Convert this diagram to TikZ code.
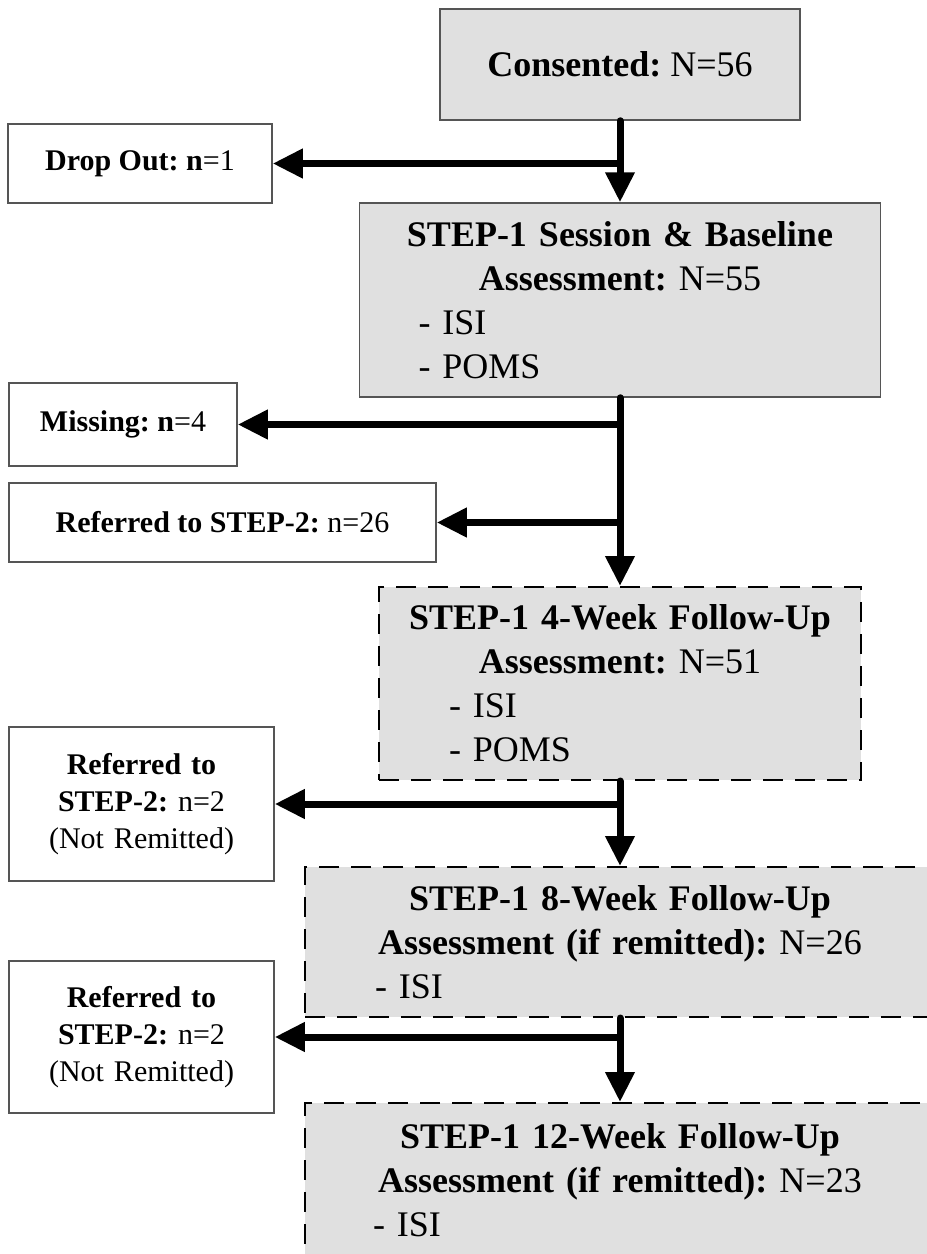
\documentclass[tikz,border=0pt]{standalone}
\usepackage{fontspec}
\setmainfont{Liberation Serif}
\usetikzlibrary{arrows.meta}
\definecolor{boxgray}{RGB}{224,224,224}
\definecolor{edgegray}{RGB}{85,85,85}
\frenchspacing
\begin{document}
\begin{tikzpicture}[x=1pt,y=-1pt,
  solidbox/.style={rectangle,draw=edgegray,line width=1.5pt,fill=boxgray,inner sep=0pt},
  whitebox/.style={rectangle,draw=edgegray,line width=1.5pt,fill=white,inner sep=0pt},
  dashbox/.style={rectangle,draw=black,line width=2pt,dash pattern=on 20pt off 12pt,fill=boxgray,inner sep=0pt},
  bigtext/.style={font=\fontsize{36}{44}\selectfont\frenchspacing},
  smalltext/.style={font=\fontsize{30}{37}\selectfont\frenchspacing},
  flow/.style={line width=7pt,line cap=round,-{Triangle[width=28pt,length=30pt]}}
]
\useasboundingbox (0,0) rectangle (927,1254);

% main column
\node[solidbox,bigtext,minimum width=360pt,minimum height=111pt] (cons) at (620,64.5)
  {\textbf{Consented:} N=56};
\node[solidbox,bigtext,minimum width=521pt,minimum height=194pt,text width=521pt] (sess) at (620,300)
  {\centering\textbf{STEP-1 Session \& Baseline}\\\textbf{Assessment:} N=55\par
   \raggedright\hspace*{59pt}- ISI\\\hspace*{59pt}- POMS\par};
\node[dashbox,bigtext,minimum width=482pt,minimum height=193pt,text width=482pt] (w4) at (620,683.5)
  {\centering\textbf{STEP-1 4-Week Follow-Up}\\\textbf{Assessment:} N=51\par
   \raggedright\hspace*{70pt}- ISI\\\hspace*{70pt}- POMS\par};
\node[dashbox,bigtext,minimum width=630pt,minimum height=150pt,text width=630pt] (w8) at (620,942)
  {\centering\textbf{STEP-1 8-Week Follow-Up}\\\textbf{Assessment (if remitted):} N=26\par
   \raggedright\hspace*{70pt}- ISI\par};
\node[dashbox,bigtext,minimum width=630pt,minimum height=155pt,text width=630pt] (w12) at (620,1180.5)
  {\centering\textbf{STEP-1 12-Week Follow-Up}\\\textbf{Assessment (if remitted):} N=23\par
   \raggedright\hspace*{68pt}- ISI\par};

% side boxes
\node[whitebox,smalltext,minimum width=264pt,minimum height=79pt] (drop) at (140,163.5)
  {\textbf{Drop Out: n}=1};
\node[whitebox,smalltext,minimum width=228pt,minimum height=83pt] (miss) at (123,424.5)
  {\textbf{Missing: n}=4};
\node[whitebox,smalltext,minimum width=427pt,minimum height=79pt] (ref1) at (222.5,522.5)
  {\textbf{Referred to STEP-2:} n=26};
\node[whitebox,smalltext,minimum width=265pt,minimum height=154pt,text width=265pt,align=center] (ref2) at (141.5,804)
  {\textbf{Referred to}\\\textbf{STEP-2:} n=2\\(Not Remitted)};
\node[whitebox,smalltext,minimum width=265pt,minimum height=152pt,text width=265pt,align=center] (ref3) at (141.5,1037)
  {\textbf{Referred to}\\\textbf{STEP-2:} n=2\\(Not Remitted)};

% connectors
\draw[flow] (cons.south) -- (sess.north);
\draw[flow] (cons.south |- drop.east) -- (drop.east);
\draw[flow] (sess.south) -- (w4.north);
\draw[flow] (sess.south |- miss.east) -- (miss.east);
\draw[flow] (sess.south |- ref1.east) -- (ref1.east);
\draw[flow] (w4.south) -- (w8.north);
\draw[flow] (w4.south |- ref2.east) -- (ref2.east);
\draw[flow] (w8.south) -- (w12.north);
\draw[flow] (w8.south |- ref3.east) -- (ref3.east);
\end{tikzpicture}
\end{document}
